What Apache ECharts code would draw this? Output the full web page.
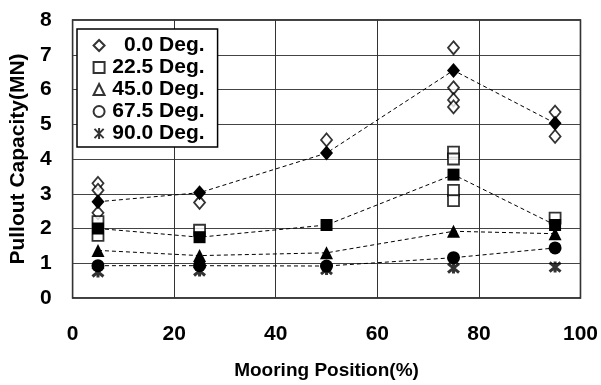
<!DOCTYPE html>
<html>
<head>
<meta charset="utf-8">
<script src="https://cdn.jsdelivr.net/npm/echarts@6/dist/echarts.min.js"></script>
<style>
html, body { margin: 0; padding: 0; background: #fff; }
#chart { width: 601px; height: 385px; }
</style>
</head>
<body>
<div id="chart"></div>
<script>
// 数据
var names = ['0.0 Deg.', '22.5 Deg.', '45.0 Deg.', '67.5 Deg.', '90.0 Deg.'];
var positions = [5, 25, 50, 75, 95];

// 各测点的试验值 [位置, 承载力]
var deg0Tests = [[5, 3.3], [5, 3.1], [5, 2.45], [25, 2.75], [50, 4.55],
	[75, 7.2], [75, 6.05], [75, 5.7], [75, 5.5], [95, 5.35], [95, 4.65]];
var deg22Tests = [[5, 2.2], [5, 1.8], [25, 1.95], [75, 4.2], [75, 4.0],
	[75, 3.1], [75, 2.8], [95, 2.3]];
var deg45Tests = [];
var deg67Tests = [];
var deg90Tests = [[5, 0.75], [25, 0.78], [50, 0.82], [75, 0.86], [95, 0.89]];

// 平均值（虚线连接）
var deg0Mean = [2.77, 3.03, 4.17, 6.55, 5.03];
var deg22Mean = [2.0, 1.75, 2.1, 3.55, 2.1];
var deg45Mean = [1.37, 1.22, 1.3, 1.92, 1.85];
var deg67Mean = [0.93, 0.93, 0.92, 1.16, 1.44];

var yTicks = { min: 0, max: 8, interval: 1 };
var xTicks = { min: 0, max: 100, interval: 20 };

function pairs(ys) {
	return positions.map(function(x, i) { return [x, ys[i]]; });
}

var font = 'Liberation Sans, Arial, sans-serif';
var star = 'path://M0,0L10,10M10,0L0,10M5,-1L5,11';

var openStyle = { color: '#fff', borderColor: '#000', borderWidth: 1.8 };
var fillStyle = { color: '#000', borderColor: '#000', borderWidth: 0 };
var dash = { color: '#000', width: 1, type: [4, 3] };

var myChart = echarts.init(document.getElementById('chart'));

var option = {
	animation : false,
	textStyle : { fontFamily : font },
	grid : {
		left : 70, right : 19, top : 20, bottom : 86,
		show : true, borderColor : '#000', borderWidth : 1.5
	},
	legend : {
		orient : 'vertical',
		left : 77, top : 29,
		padding : [6, 13, 3, 15],
		itemWidth : 11, itemHeight : 11, itemGap : 1,
		borderColor : '#000', borderWidth : 1.5,
		backgroundColor : '#fff',
		data : names,
		formatter : function(n) { return '{r|' + n + '}'; },
		textStyle : {
			rich : {
				r : { width : 95, align : 'right', fontSize : 21, fontWeight : 'bold',
					color : '#000', fontFamily : font, lineHeight : 21 }
			}
		}
	},
	xAxis : {
		type : 'value',
		min : xTicks.min, max : xTicks.max, interval : xTicks.interval,
		name : 'Mooring Position(%)',
		nameLocation : 'middle', nameGap : 63,
		nameTextStyle : { fontSize : 19, fontWeight : 'bold', color : '#000' },
		axisLine : { show : false },
		axisTick : { show : false },
		axisLabel : { margin : 26, fontSize : 21, fontWeight : 'bold', color : '#000' },
		splitLine : { lineStyle : { color : '#333', width : 1 } }
	},
	yAxis : {
		type : 'value',
		min : yTicks.min, max : yTicks.max, interval : yTicks.interval,
		name : 'Pullout Capacity(MN)',
		nameLocation : 'middle', nameGap : 38,
		nameTextStyle : { fontSize : 21, fontWeight : 'bold', color : '#000' },
		axisLine : { show : false },
		axisTick : { show : false },
		axisLabel : { margin : 21, fontSize : 21, fontWeight : 'bold', color : '#000' },
		splitLine : { lineStyle : { color : '#444', width : 1 } }
	},
	series : [
		{ name : names[0], type : 'scatter', symbol : 'diamond', symbolSize : [11, 13],
			itemStyle : openStyle, data : deg0Tests, z : 3 },
		{ name : names[1], type : 'scatter', symbol : 'rect', symbolSize : 11,
			itemStyle : openStyle, data : deg22Tests, z : 3 },
		{ name : names[2], type : 'scatter', symbol : 'triangle', symbolSize : 11,
			itemStyle : openStyle, data : deg45Tests, z : 3 },
		{ name : names[3], type : 'scatter', symbol : 'circle', symbolSize : 11,
			itemStyle : openStyle, data : deg67Tests, z : 3 },
		{ name : names[4], type : 'scatter', symbol : star, symbolSize : 11,
			itemStyle : { color : 'none', borderColor : '#000', borderWidth : 3 },
			data : deg90Tests, z : 4 },
		{ name : 'm0', type : 'line', symbol : 'diamond', symbolSize : [13, 15],
			itemStyle : fillStyle, lineStyle : dash, data : pairs(deg0Mean), z : 5 },
		{ name : 'm22', type : 'line', symbol : 'rect', symbolSize : 12,
			itemStyle : fillStyle, lineStyle : dash, data : pairs(deg22Mean), z : 5 },
		{ name : 'm45', type : 'line', symbol : 'triangle', symbolSize : 13,
			itemStyle : fillStyle, lineStyle : dash, data : pairs(deg45Mean), z : 5 },
		{ name : 'm67', type : 'line', symbol : 'circle', symbolSize : 13,
			itemStyle : fillStyle, lineStyle : dash, data : pairs(deg67Mean), z : 5 }
	]
};

myChart.setOption(option);
</script>
</body>
</html>
